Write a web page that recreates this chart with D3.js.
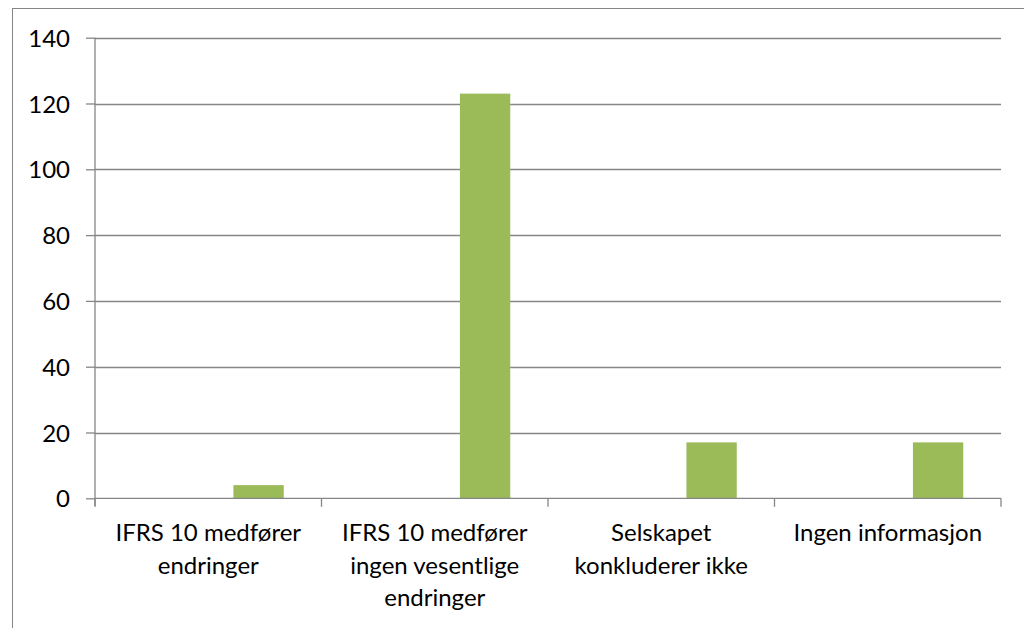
<!DOCTYPE html>
<html><head><meta charset="utf-8">
<script src="https://cdn.jsdelivr.net/npm/d3@7"></script>
<style>html,body{margin:0;padding:0;background:#fff;overflow:hidden}</style>
</head><body><svg id="c" width="1024" height="628"></svg>
<script>
const categories = ["IFRS 10 medfører\nendringer", "IFRS 10 medfører\ningen vesentlige\nendringer", "Selskapet\nkonkluderer ikke", "Ingen informasjon"];
const seriesNames = ["Serie 1", "Serie 2", "Serie 3"];
const series1 = [null, null, null, null];
const series2 = [null, null, null, null];
const series3 = [4, 123, 17, 17];
const yTicks = [0, 20, 40, 60, 80, 100, 120, 140];

(function () {
const svg = d3.select("#c");
const font = "Lato, 'Open Sans', sans-serif";
const grid = "#868686";
const pl = 95, pr = 1001, pt = 37.7, pb = 498.3;

svg.append("rect").attr("x", 12.5).attr("y", 8.5).attr("width", 1100).attr("height", 700)
  .attr("fill", "#fff").attr("stroke", grid).attr("stroke-width", 1);

const x = d3.scaleBand().domain(categories).range([pl, pr]).padding(0);
const xs = d3.scaleBand().domain(seriesNames).range([0, x.bandwidth()]).paddingInner(0).paddingOuter(0.75);
const y = d3.scaleLinear().domain([0, 140]).range([pb, pt]);

// gridlines
svg.append("g").selectAll("line").data(yTicks.filter(d => d > 0)).join("line")
  .attr("x1", pl).attr("x2", pr)
  .attr("y1", d => Math.round(y(d)) + 0.5).attr("y2", d => Math.round(y(d)) + 0.5)
  .attr("stroke", grid).attr("stroke-width", 1.3);

// bars
const allSeries = [series1, series2, series3];
const colors = ["#4F81BD", "#C0504D", "#9BBB59"];
allSeries.forEach((s, si) => {
  svg.append("g").selectAll("rect").data(s.map((v, i) => ({v, c: categories[i]})).filter(d => d.v != null)).join("rect")
    .attr("x", d => x(d.c) + xs(seriesNames[si]))
    .attr("width", xs.bandwidth())
    .attr("y", d => y(d.v))
    .attr("height", d => y(0) - y(d.v))
    .attr("fill", colors[si]);
});

// y axis
const yAxis = d3.axisLeft(y).tickValues(yTicks).tickSize(9).tickPadding(16);
const gy = svg.append("g").attr("transform", `translate(${pl},0)`).call(yAxis);
gy.select(".domain").attr("stroke", grid).attr("stroke-width", 1.3).attr("d", `M0,${pt}V${pb + 8}`);
gy.selectAll(".tick line").attr("stroke", grid).attr("stroke-width", 1.3);
gy.selectAll(".tick text").attr("font-family", font).attr("font-size", 24).attr("fill", "#000").attr("dy", "0.36em");

// x axis
const xAxis = d3.axisBottom(x).tickSize(0).tickFormat("");
const gx = svg.append("g").attr("transform", `translate(0,${pb})`).call(xAxis);
gx.select(".domain").attr("stroke", grid).attr("stroke-width", 1.3).attr("d", `M${pl},0H${pr}`);
const bounds = categories.map(c => x(c)).concat([pr]);
gx.selectAll("line.sep").data(bounds).join("line").attr("class", "sep")
  .attr("x1", d => d).attr("x2", d => d).attr("y1", 0).attr("y2", 8.5)
  .attr("stroke", grid).attr("stroke-width", 1.3);

// category labels
const lab = svg.append("g");
categories.forEach(c => {
  const t = lab.append("text").attr("x", x(c) + x.bandwidth() / 2).attr("y", 541)
    .attr("text-anchor", "middle").attr("font-family", font).attr("font-size", 24).attr("fill", "#000");
  c.split("\n").forEach((line, i) => {
    t.append("tspan").attr("x", x(c) + x.bandwidth() / 2).attr("dy", i === 0 ? 0 : 32.5).text(line);
  });
});
})();
</script></body></html>
